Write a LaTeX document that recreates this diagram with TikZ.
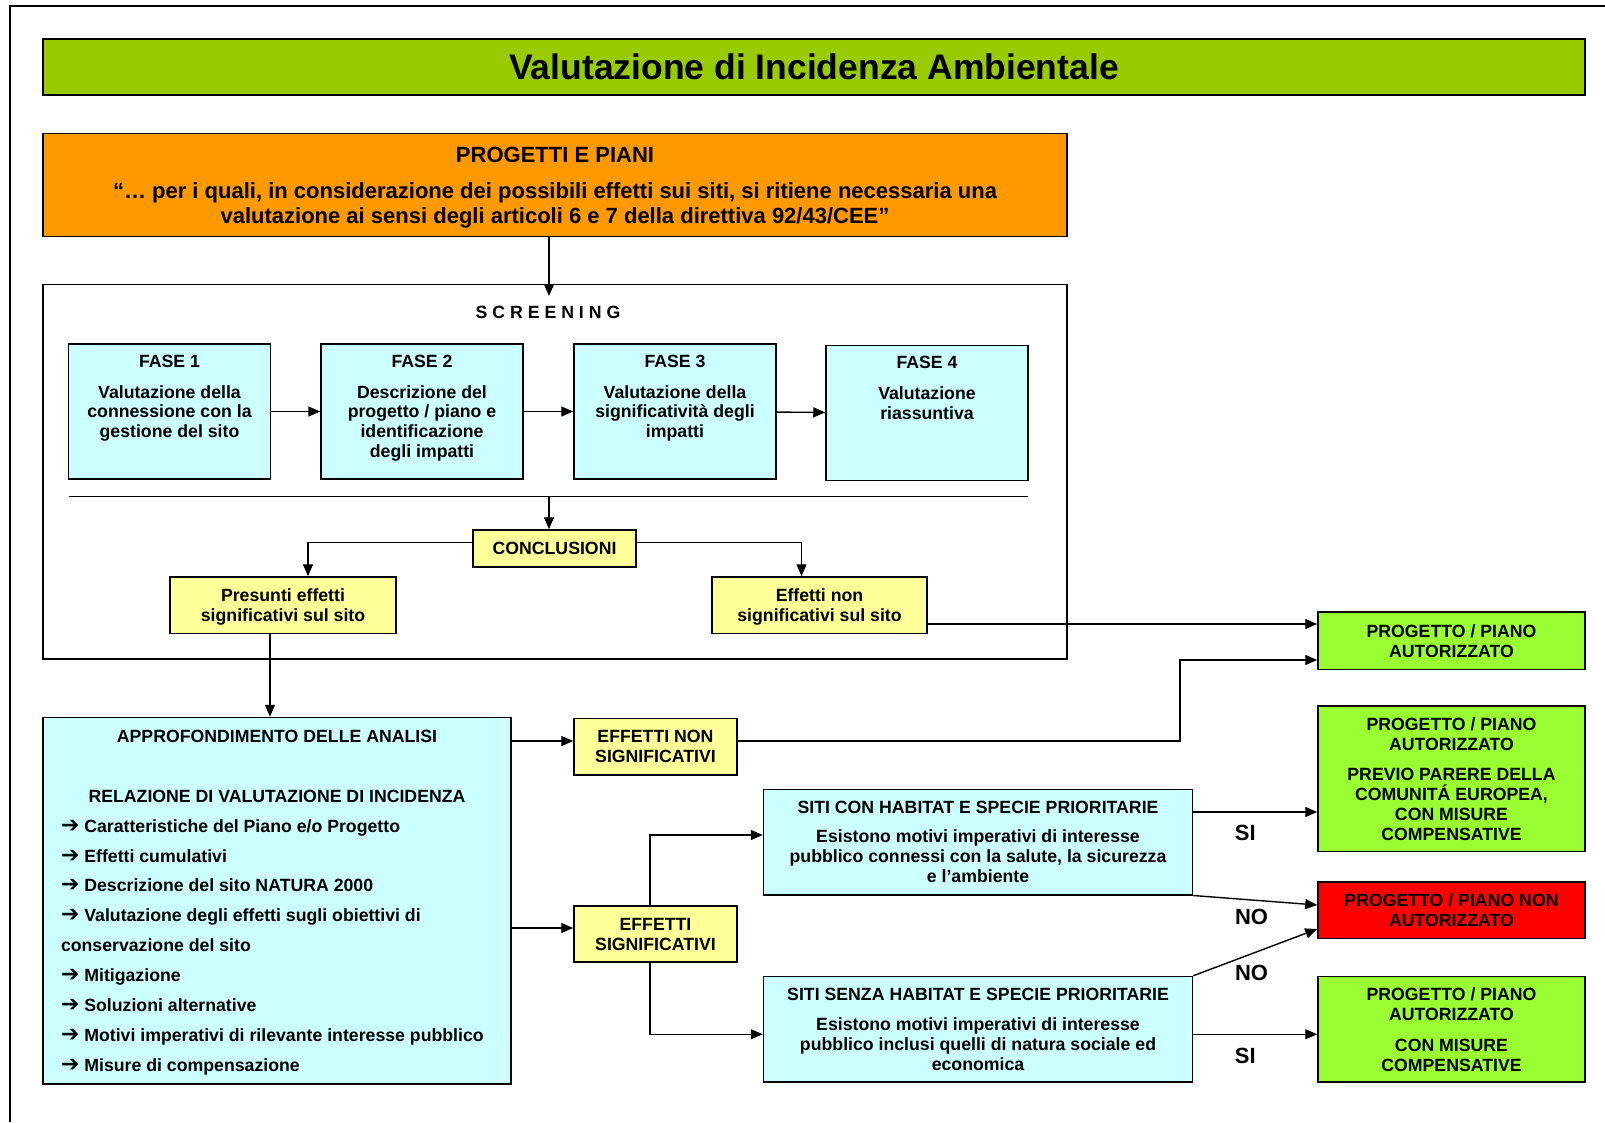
\documentclass[tikz,border=0pt]{standalone}
\usepackage{fontspec}
\setmainfont{Liberation Sans}
\newfontfamily\arrowfont{DejaVu Sans}
\usetikzlibrary{arrows.meta}
\definecolor{bargreen}{HTML}{99CC00}
\definecolor{planorange}{HTML}{FF9900}
\definecolor{phasecyan}{HTML}{CCFFFF}
\definecolor{notepale}{HTML}{FFFF99}
\definecolor{okgreen}{HTML}{99FF33}
\definecolor{nored}{HTML}{FF0000}
\newcommand{\bul}{{\arrowfont\fontsize{22}{22}\selectfont ➔}\ }
\tikzset{
	box/.style={draw, line width=1.5pt, inner sep=0pt, align=center, text depth=0pt, font=\bfseries\fontsize{17.7}{20}\selectfont},
	fase/.style={box, fill=phasecyan, minimum width=202pt, minimum height=135pt},
	fasetxt/.style={anchor=north, yshift=-11pt, inner sep=0pt, align=center, font=\bfseries\fontsize{17.7}{19.7}\selectfont},
	note/.style={box, fill=notepale, minimum height=56pt},
	site/.style={box, fill=phasecyan, minimum width=429pt, minimum height=105.5pt},
	outcome/.style={box, fill=okgreen, minimum width=267pt},
	answer/.style={inner sep=0pt, font=\bfseries\fontsize{22}{24}\selectfont},
	link/.style={line width=1.4pt}
}
\begin{document}
\begin{tikzpicture}[x=1pt, y=-1pt, >={Triangle[length=12pt,width=10pt]}, link]
	\useasboundingbox (0,0) rectangle (1605,1122);
	\draw[line width=2.5pt] (10,1122) -- (10,6) -- (1605,6);

	\node[box, fill=bargreen, minimum width=1542pt, minimum height=56pt, font=\bfseries\fontsize{35.5}{40}\selectfont] (title) at (814,67) {Valutazione di Incidenza Ambientale};
	\node[box, fill=planorange, minimum width=1024pt, minimum height=103pt, font=\bfseries\fontsize{22}{24.6}\selectfont] (plans) at (555,185)
		{PROGETTI E PIANI\\[12pt]“… per i quali, in considerazione dei possibili effetti sui siti, si ritiene necessaria una\\valutazione ai sensi degli articoli 6 e 7 della direttiva 92/43/CEE”};
	\node[box, fill=white, minimum width=1024pt, minimum height=374.4pt, label={[fasetxt, yshift=-11pt, xshift=-7pt]north:{S C R E E N I N G}}] (screen) at (555,471.8) {};

	\node[fase, label={[fasetxt]north:{FASE 1\\[11pt]Valutazione della\\connessione con la\\gestione del sito}}] (f1) at (169.5,411.5) {};
	\node[fase, label={[fasetxt]north:{FASE 2\\[11pt]Descrizione del\\progetto / piano e\\identificazione\\degli impatti}}] (f2) at (422,411.5) {};
	\node[fase, label={[fasetxt]north:{FASE 3\\[11pt]Valutazione della\\significatività degli\\impatti}}] (f3) at (675,411.5) {};
	\node[fase, label={[fasetxt]north:{FASE 4\\[11pt]Valutazione\\riassuntiva}}] (f4) at (927,413) {};
	\draw[->] (f1) -- (f2);
	\draw[->] (f2) -- (f3);
	\draw[->] (f3) -- (f4);

	\coordinate (spine) at (549,0);
	\coordinate (screenin) at (549,296);
	\coordinate (sepl) at (68.6,496.5);
	\coordinate (sepr) at (1028,496.5);
	\draw (sepl) -- (sepr);
	\draw[->] (plans.south -| spine) -- (screenin);

	\node[note, minimum width=163pt, minimum height=37pt] (concl) at (554.5,548.5) {CONCLUSIONI};
	\node[note, minimum width=226pt, minimum height=56.6pt] (presunti) at (283,605.3) {Presunti effetti\\significativi sul sito};
	\node[note, minimum width=215pt, minimum height=56.6pt] (effnon) at (819.5,605.3) {Effetti non\\significativi sul sito};
	\draw[->] (spine |- sepl) -- (concl.north -| spine);
	\draw[->] ([yshift=6pt]concl.west) -| ([xshift=25pt]presunti.north);
	\draw[->] ([yshift=6pt]concl.east) -| ([xshift=-18pt]effnon.north);

	\node[outcome, minimum height=57.5pt] (ok1) at (1451.5,640.75) {PROGETTO / PIANO\\AUTORIZZATO};
	\draw[->] ([yshift=-18.7pt]effnon.east) -- ([yshift=16.75pt]ok1.west);

	\node[box, fill=phasecyan, minimum width=468pt, minimum height=366.5pt, align=left, font=\bfseries\fontsize{17.7}{29.96}\selectfont] (appr) at (277,900.75)
		{\makebox[432pt][c]{APPROFONDIMENTO DELLE ANALISI}\\
		\mbox{}\\
		\makebox[432pt][c]{RELAZIONE DI VALUTAZIONE DI INCIDENZA}\\
		\bul Caratteristiche del Piano e/o Progetto\\
		\bul Effetti cumulativi\\
		\bul Descrizione del sito NATURA 2000\\
		\bul Valutazione degli effetti sugli obiettivi di\\
		conservazione del sito\\
		\bul Mitigazione\\
		\bul Soluzioni alternative\\
		\bul Motivi imperativi di rilevante interesse pubblico\\
		\bul Misure di compensazione};
	\draw[->] ([xshift=-13pt]presunti.south) -- ([xshift=-7pt]appr.north);

	\node[note, minimum width=163pt, minimum height=56.5pt] (effns) at (655.5,746.8) {EFFETTI NON\\SIGNIFICATIVI};
	\node[note, minimum width=163pt, minimum height=56pt] (effs) at (655.5,934) {EFFETTI\\SIGNIFICATIVI};
	\draw[->] ([yshift=159.75pt]appr.east) -- ([yshift=5.8pt]effns.west);
	\draw[->] ([yshift=-27.25pt]appr.east) -- ([yshift=6pt]effs.west);
	\coordinate (bend) at (1180,660);
	\draw[->] ([yshift=5.8pt]effns.east) -| (bend) -- ([yshift=-19.25pt]ok1.west);

	\node[site] (con) at (978,842) {SITI CON HABITAT E SPECIE PRIORITARIE\\[9.5pt]Esistono motivi imperativi di interesse\\pubblico connessi con la salute, la sicurezza\\e l’ambiente};
	\node[site] (senza) at (978,1029.25) {SITI SENZA HABITAT E SPECIE PRIORITARIE\\[9.5pt]Esistono motivi imperativi di interesse\\pubblico inclusi quelli di natura sociale ed\\economica};
	\draw[->] ([xshift=-5.5pt]effs.north) |- ([yshift=7pt]con.west);
	\draw[->] ([xshift=-5.5pt]effs.south) |- ([yshift=-5pt]senza.west);

	\node[outcome, minimum height=145.6pt] (ok2) at (1451.5,778.8) {PROGETTO / PIANO\\AUTORIZZATO\\[10pt]PREVIO PARERE DELLA\\COMUNITÁ EUROPEA,\\CON MISURE\\COMPENSATIVE};
	\node[outcome, fill=nored, minimum height=56.6pt] (red) at (1451.5,910.3) {PROGETTO / PIANO NON\\AUTORIZZATO};
	\node[outcome, minimum height=105.5pt] (ok3) at (1451.5,1029.25) {PROGETTO / PIANO\\AUTORIZZATO\\[11pt]CON MISURE\\COMPENSATIVE};

	\draw[->] ([yshift=30pt]con.east) -- ([yshift=-33.2pt]ok2.west) node[answer, pos=0.42, below=12pt] {SI};
	\draw[->] (con.south east) -- ([yshift=5.3pt]red.west) node[answer, pos=0.47, below=8pt] {NO};
	\draw[->] (senza.north east) -- ([yshift=-18.7pt]red.west) node[answer, pos=0.47, below=11pt] {NO};
	\draw[->] ([yshift=-5pt]senza.east) -- ([yshift=-5pt]ok3.west) node[answer, pos=0.42, below=13pt] {SI};
\end{tikzpicture}
\end{document}
